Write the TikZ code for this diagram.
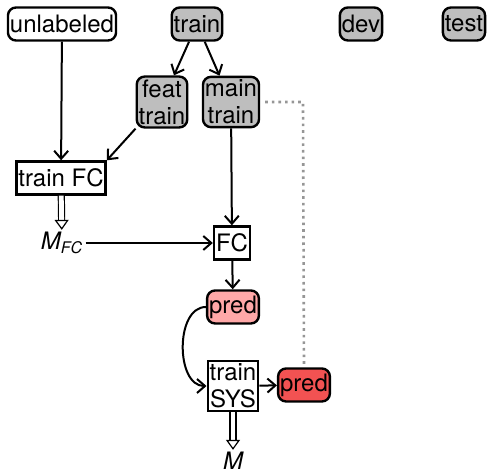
\documentclass[tikz,border=0pt]{standalone}
\usepackage{fontspec}
\setmainfont{TeX Gyre Heros}
\usetikzlibrary{arrows.meta}
\definecolor{boxgray}{RGB}{190,190,190}
\definecolor{predpink}{RGB}{255,168,168}
\definecolor{predred}{RGB}{242,82,82}
\definecolor{dotgray}{RGB}{150,150,150}
\tikzset{
  base/.style={draw, line width=1.2pt, inner xsep=1pt, inner ysep=1.5pt, minimum height=16.5pt,
    align=center, font=\fontsize{12}{13.5}\selectfont},
  data/.style={base, rounded corners=4pt, fill=boxgray},
  proc/.style={base, fill=white},
  lbl/.style={font=\fontsize{12}{13.5}\selectfont\itshape, inner sep=1pt},
  conn/.style={line width=1pt, -{Straight Barb[length=4pt,width=7pt]}},
  dbl/.style={line width=0.6pt, double distance=2.4pt, -{Triangle[open,length=5pt,width=7pt]}},
  dotline/.style={dotgray, line width=1.3pt, dotted}
}
\begin{document}
\begin{tikzpicture}[x=0.5pt,y=-0.5pt]
\useasboundingbox (0,0) rectangle (487,469);
\node[base, rounded corners=4pt, fill=white] (unl) at (62,24) {unlabeled};
\node[data] (train) at (197,24) {train};
\node[data] (dev) at (361,24) {dev};
\node[data] (test) at (464,24) {test};
\node[data] (feat) at (162,102) {feat\\train};
\node[data] (main) at (231,102) {main\\train};
\node[proc] (tfc) at (61,178) {train FC};
\node[lbl] (mfc) at (62,243) {M\textsubscript{FC}};
\node[proc] (fc) at (232,243) {FC};
\node[base, rounded corners=4pt, fill=predpink] (pred1) at (233,307) {pred};
\node[proc] (sys) at (233,386) {train\\SYS};
\node[base, rounded corners=4pt, fill=predred] (pred2) at (304,385) {pred};
\node[lbl] (m) at (233,461) {M};
\coordinate (corner) at (303,102);
\draw[conn] (train) -- (feat);
\draw[conn] (train) -- (main);
\draw[conn] (unl) -- (tfc);
\draw[conn] (feat.south west) -- (tfc.north east);
\draw[conn] (main) -- (fc);
\draw[conn] (mfc) -- (fc);
\draw[conn] (fc) -- (pred1);
\draw[conn] (pred1.west) to[out=180,in=180] (sys.west);
\draw[conn] (sys) -- (pred2);
\draw[dbl] (tfc) -- (mfc);
\draw[dbl] (sys) -- (m);
\draw[dotline, shorten <=2.5pt] (main.east) -- (corner) -- (pred2.north);
\end{tikzpicture}
\end{document}
